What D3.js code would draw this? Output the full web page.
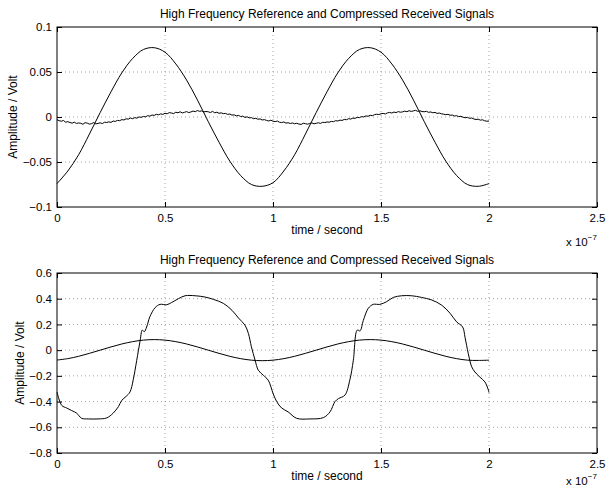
<!DOCTYPE html>
<html>
<head>
<meta charset="utf-8">
<script src="https://cdn.jsdelivr.net/npm/d3@7"></script>
<style>
  body { margin: 0; background: #fff; }
  svg { display: block; font-family: "Liberation Sans", Arial, Helvetica, sans-serif; }
  .grid line { stroke: #8a8a8a; stroke-width: 0.8; stroke-dasharray: 1 3; }
  .tick text { font-size: 11.5px; fill: #000; }
  .tick line { stroke: #000; }
</style>
</head>
<body>
<svg id="chart" width="606" height="487"></svg>
<script>
// time axis in units of 1e-7 s
let xTicks = [0, 0.5, 1, 1.5, 2, 2.5]
let xTickLabels = ['0', '0.5', '1', '1.5', '2', '2.5']
let yTicksTop = [-0.1, -0.05, 0, 0.05, 0.1]
let yTickLabelsTop = ['\u22120.1', '\u22120.05', '0', '0.05', '0.1']
let yTicksBottom = [-0.8, -0.6, -0.4, -0.2, 0, 0.2, 0.4, 0.6]
let yTickLabelsBottom = ['\u22120.8', '\u22120.6', '\u22120.4', '\u22120.2', '0', '0.2', '0.4', '0.6']

// top panel: high frequency reference (sampled every 0.05)
let refTimeTop = [0, 0.05, 0.1, 0.15, 0.2, 0.25, 0.3, 0.35, 0.4, 0.45,
  0.5, 0.55, 0.6, 0.65, 0.7, 0.75, 0.8, 0.85, 0.9, 0.95,
  1, 1.05, 1.1, 1.15, 1.2, 1.25, 1.3, 1.35, 1.4, 1.45,
  1.5, 1.55, 1.6, 1.65, 1.7, 1.75, 1.8, 1.85, 1.9, 1.95, 2]
let refTop = [-0.074, -0.060, -0.042, -0.019, 0.005, 0.028, 0.049, 0.065, 0.075, 0.077,
  0.072, 0.059, 0.041, 0.019, -0.005, -0.028, -0.049, -0.065, -0.075, -0.077,
  -0.073, -0.060, -0.042, -0.019, 0.005, 0.028, 0.049, 0.065, 0.075, 0.077,
  0.072, 0.059, 0.041, 0.019, -0.005, -0.028, -0.049, -0.065, -0.075, -0.077, -0.074]

// top panel: received signal (sampled every 0.01)
let recvTop = [
  -.0030, -.0041, -.0047, -.0039, -.0058, -.0052, -.0061, -.0069, -.0057, -.0072,
  -.0066, -.0070, -.0081, -.0063, -.0068, -.0079, -.0074, -.0062, -.0077, -.0071,
  -.0065, -.0073, -.0058, -.0061, -.0054, -.0060, -.0045, -.0049, -.0038, -.0041,
  -.0029, -.0033, -.0020, -.0024, -.0011, -.0019, -.0007, -.0013, .0001, -.0004,
  .0006, .0002, .0015, .0009, .0022, .0018, .0030, .0024, .0035, .0029,
  .0041, .0036, .0049, .0044, .0038, .0053, .0047, .0058, .0045, .0052,
  .0060, .0049, .0056, .0066, .0059, .0072, .0063, .0068, .0057, .0061,
  .0058, .0050, .0062, .0047, .0053, .0041, .0046, .0037, .0040, .0029,
  .0033, .0021, .0024, .0012, .0018, .0006, .0009, -.0004, .0002, -.0010,
  -.0007, -.0019, -.0014, -.0025, -.0021, -.0033, -.0029, -.0038, -.0044, -.0036,
  -.0047, -.0051, -.0045, -.0058, -.0062, -.0055, -.0068, -.0064, -.0072, -.0066,
  -.0075, -.0070, -.0078, -.0083, -.0069, -.0074, -.0080, -.0072, -.0065, -.0076,
  -.0070, -.0064, -.0071, -.0059, -.0062, -.0055, -.0058, -.0049, -.0052, -.0041,
  -.0044, -.0035, -.0038, -.0027, -.0030, -.0019, -.0023, -.0012, -.0015, -.0004,
  -.0007, .0005, .0001, .0012, .0008, .0019, .0015, .0026, .0031, .0027,
  .0036, .0040, .0034, .0046, .0051, .0044, .0055, .0049, .0060, .0053,
  .0057, .0065, .0059, .0070, .0062, .0068, .0074, .0063, .0069, .0061,
  .0058, .0063, .0052, .0056, .0047, .0051, .0040, .0044, .0035, .0031,
  .0026, .0030, .0019, .0022, .0011, .0015, .0004, .0008, -.0003, -.0008,
  -.0004, -.0015, -.0011, -.0022, -.0028, -.0024, -.0035, -.0031, -.0042, -.0047,
  -.0045]
let recvTimeTop = recvTop.map((d, i) => i / 100)

// bottom panel: reference (sampled every 0.05)
let refBottom = [-0.077, -0.066, -0.048, -0.025, 0.000, 0.025, 0.048, 0.066, 0.078, 0.082,
  0.078, 0.066, 0.048, 0.025, 0.000, -0.025, -0.048, -0.066, -0.078, -0.082,
  -0.078, -0.066, -0.048, -0.025, 0.000, 0.025, 0.048, 0.066, 0.078, 0.082,
  0.078, 0.066, 0.048, 0.025, 0.000, -0.025, -0.048, -0.066, -0.078, -0.080, -0.078]

// bottom panel: compressed received signal
let recvTimeBottom = [0, 0.022, 0.045, 0.068, 0.091, 0.114, 0.145, 0.19, 0.23, 0.26,
  0.284, 0.30, 0.32, 0.338, 0.353, 0.369, 0.384, 0.395, 0.404, 0.415,
  0.43, 0.454, 0.477, 0.508, 0.53, 0.562, 0.593, 0.64, 0.685, 0.724,
  0.77, 0.81, 0.84, 0.87, 0.886, 0.90, 0.917, 0.932, 0.955, 0.978,
  1.001, 1.017, 1.04, 1.07, 1.109, 1.171, 1.233, 1.264, 1.287, 1.303,
  1.333, 1.356, 1.372, 1.39, 1.403, 1.418, 1.441, 1.464, 1.495, 1.526,
  1.557, 1.596, 1.642, 1.688, 1.735, 1.781, 1.82, 1.85, 1.878, 1.889,
  1.904, 1.92, 1.935, 1.958, 1.981, 1.997, 2.0]
let recvBottom = [-0.325, -0.43, -0.45, -0.47, -0.49, -0.53, -0.535, -0.535, -0.527, -0.49,
  -0.44, -0.39, -0.36, -0.325, -0.23, -0.08, 0.065, 0.156, 0.143, 0.18,
  0.26, 0.33, 0.356, 0.353, 0.37, 0.40, 0.423, 0.423, 0.413, 0.395,
  0.364, 0.31, 0.25, 0.195, 0.13, 0.026, -0.078, -0.156, -0.195, -0.234,
  -0.34, -0.40, -0.45, -0.48, -0.53, -0.535, -0.525, -0.48, -0.40, -0.377,
  -0.35, -0.23, -0.078, 0.156, 0.15, 0.23, 0.325, 0.356, 0.356, 0.377,
  0.41, 0.423, 0.423, 0.41, 0.39, 0.35, 0.286, 0.22, 0.18, 0.10,
  -0.026, -0.13, -0.17, -0.21, -0.247, -0.31, -0.33]

let titleText = 'High Frequency Reference and Compressed Received Signals'

let svg = d3.select('svg#chart')
let left = 57, plotW = 540, plotH = 180

function drawPanel(top, yDomain, yTicks, yLabels, series, ylabelX) {
  let g = svg.append('g').attr('transform', `translate(${left}, ${top})`)

  let xScale = d3.scaleLinear().domain([0, 2.5]).range([0, plotW])
  let yScale = d3.scaleLinear().domain(yDomain).range([plotH, 0])

  // dotted grid
  let grid = g.append('g').attr('class', 'grid')
  grid.selectAll('.gx').data(xTicks.slice(1, -1)).enter().append('line')
    .attr('x1', d => xScale(d)).attr('x2', d => xScale(d))
    .attr('y1', 0).attr('y2', plotH)
  grid.selectAll('.gy').data(yTicks.slice(1, -1)).enter().append('line')
    .attr('x1', 0).attr('x2', plotW)
    .attr('y1', d => yScale(d)).attr('y2', d => yScale(d))

  // the signals
  series.forEach(s => {
    let line = d3.line()
      .x((d, i) => xScale(s.t[i]))
      .y(d => yScale(d))
      .curve(s.curve)
    g.append('path')
      .datum(s.v)
      .attr('d', line)
      .attr('fill', 'none')
      .attr('stroke', '#000')
      .attr('stroke-width', 1)
  })

  // axes with inward ticks
  g.append('g')
    .attr('transform', `translate(0, ${plotH})`)
    .call(d3.axisBottom(xScale).tickValues(xTicks)
      .tickFormat((d, i) => xTickLabels[i])
      .tickSizeInner(-5).tickSizeOuter(0).tickPadding(7))
  g.append('g')
    .call(d3.axisTop(xScale).tickValues(xTicks).tickFormat('')
      .tickSizeInner(-5).tickSizeOuter(0))
  g.append('g')
    .call(d3.axisLeft(yScale).tickValues(yTicks)
      .tickFormat((d, i) => yLabels[i])
      .tickSizeInner(-5).tickSizeOuter(0).tickPadding(5))
  g.append('g')
    .attr('transform', `translate(${plotW}, 0)`)
    .call(d3.axisRight(yScale).tickValues(yTicks).tickFormat('')
      .tickSizeInner(-5).tickSizeOuter(0))
  g.selectAll('.domain').remove()

  g.append('rect')
    .attr('width', plotW).attr('height', plotH)
    .attr('fill', 'none').attr('stroke', '#000').attr('stroke-width', 1)

  // labels
  svg.append('text')
    .attr('x', left + plotW / 2).attr('y', top - 9)
    .attr('text-anchor', 'middle').attr('font-size', 12)
    .text(titleText)
  svg.append('text')
    .attr('x', left + plotW / 2).attr('y', top + plotH + 27)
    .attr('text-anchor', 'middle').attr('font-size', 12)
    .text('time / second')
  svg.append('text')
    .attr('transform', `translate(${ylabelX}, ${top + plotH / 2}) rotate(-90)`)
    .attr('text-anchor', 'middle').attr('font-size', 12)
    .text('Amplitude / Volt')
  let ex = svg.append('text')
    .attr('x', 566).attr('y', Math.min(top + plotH + 39, 485))
    .attr('font-size', 11.5)
  ex.append('tspan').text('x 10')
  ex.append('tspan').attr('dy', -6).attr('font-size', 8).text('\u22127')
}

drawPanel(27, [-0.1, 0.1], yTicksTop, yTickLabelsTop, [
  {t: refTimeTop, v: refTop, curve: d3.curveCatmullRom},
  {t: recvTimeTop, v: recvTop, curve: d3.curveLinear}
], 17)

drawPanel(273, [-0.8, 0.6], yTicksBottom, yTickLabelsBottom, [
  {t: refTimeTop, v: refBottom, curve: d3.curveCatmullRom},
  {t: recvTimeBottom, v: recvBottom, curve: d3.curveCatmullRom}
], 24)
</script>
</body>
</html>
